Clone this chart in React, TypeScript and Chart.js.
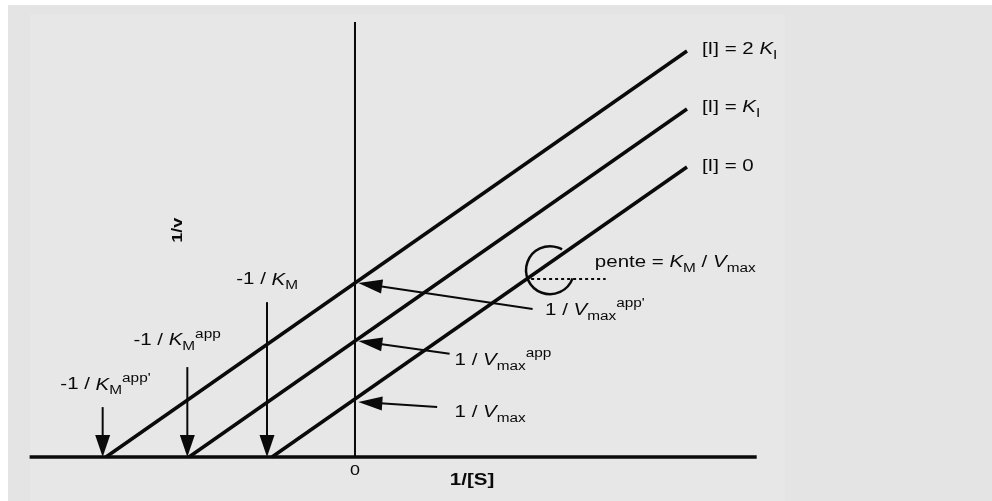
import React, { useEffect, useRef } from "react";
import { Chart, registerables } from "chart.js";

Chart.register(...registerables);

// ---- data (units: 1/[S] horizontally, 1/v vertically) ----
const lineNoInhibitor = [{ x: -1, y: 0 }, { x: 4, y: 5 }];
const lineOneKi = [{ x: -2, y: 0 }, { x: 4, y: 6 }];
const lineTwoKi = [{ x: -3, y: 0 }, { x: 4, y: 7 }];
const xAxisLine = [{ x: -3.92, y: 0 }, { x: 4.84, y: 0 }];
const yAxisLine = [{ x: 0, y: 0 }, { x: 0, y: 7.5 }];

const xRange = [-4.277, 7.675];
const yRange = [-0.7586, 7.879];

// line end labels
const lineLabelX = [4.18, 4.18, 4.18];
const lineLabelY = [5.0, 6.03, 7.02];

// downward arrows to x-intercepts
const downArrowX = [-1.06, -2.02, -3.04];
const downArrowTop = [2.67, 1.55, 0.86];
const downLabelX = [-1.43, -2.67, -3.55];
const downLabelY = [3.05, 2.0, 1.24];

// leftward arrows to y-intercepts
const leftArrowTipX = [0.04, 0.04, 0.04];
const leftArrowTipY = [0.95, 2.0, 3.0];
const leftArrowTailX = [0.99, 1.14, 2.14];
const leftArrowTailY = [0.86, 1.78, 2.55];
const leftLabelX = [1.2, 1.2, 2.29];
const leftLabelY = [0.76, 1.67, 2.53];

// slope annotation
const slopePoint = { x: 2.05, y: 3.07 };
const slopeDashEndX = 3.02;
const slopeCircle = { x: 2.35, y: 3.22 };
const slopeLabel = { x: 2.89, y: 3.36 };

// axis labels
const zeroLabel = { x: 0, y: -0.24 };
const xTitle = { x: 1.41, y: -0.4 };
const yTitle = { x: -2.14, y: 3.91 };

type Seg = [string, string];

const lineLabels: Seg[][] = [
  [["[I] = 0", ""]],
  [["[I] = ", ""], ["K", "i"], ["I", "b"]],
  [["[I] = 2 ", ""], ["K", "i"], ["I", "b"]],
];
const downLabels: Seg[][] = [
  [["-1 / ", ""], ["K", "i"], ["M", "b"]],
  [["-1 / ", ""], ["K", "i"], ["M", "b"], ["app", "p"]],
  [["-1 / ", ""], ["K", "i"], ["M", "b"], ["app'", "p"]],
];
const leftLabels: Seg[][] = [
  [["1 / ", ""], ["V", "i"], ["max", "b"]],
  [["1 / ", ""], ["V", "i"], ["max", "b"], ["app", "p"]],
  [["1 / ", ""], ["V", "i"], ["max", "b"], ["app'", "p"]],
];
const slopeText: Seg[] = [["pente = ", ""], ["K", "i"], ["M", "b"], [" / ", ""], ["V", "i"], ["max", "b"]];

const SX = 1.28;
const FONT = '"Liberation Sans", Arial, Helvetica, sans-serif';

function drawRich(ctx: CanvasRenderingContext2D, segs: Seg[], x: number, y: number, size: number, bold = false, align = "left") {
  ctx.save();
  ctx.translate(x, y);
  ctx.scale(SX, 1);
  ctx.textBaseline = "middle";
  ctx.textAlign = "left";
  ctx.fillStyle = "#0a0a0a";
  let total = 0;
  const fonts: string[] = [];
  for (const [t, st] of segs) {
    const small = st.includes("b") || st.includes("p");
    const fs = small ? Math.round(size * 0.72) : size;
    const f = `${st.includes("i") ? "italic " : ""}${bold ? "bold " : ""}${fs}px ${FONT}`;
    fonts.push(f);
    ctx.font = f;
    total += ctx.measureText(t).width;
  }
  let cx = align === "center" ? -total / 2 : 0;
  segs.forEach(([t, st], i) => {
    ctx.font = fonts[i];
    const dy = st.includes("b") ? size * 0.38 : st.includes("p") ? -size * 0.42 : 0;
    ctx.fillText(t, cx, dy);
    cx += ctx.measureText(t).width;
  });
  ctx.restore();
}

const bgPlugin = {
  id: "bg",
  beforeDraw(chart: any) {
    const ctx = chart.ctx as CanvasRenderingContext2D;
    ctx.save();
    ctx.fillStyle = "#ffffff";
    ctx.fillRect(0, 0, chart.width, chart.height);
    ctx.fillStyle = "#e4e4e4";
    ctx.fillRect(8, 5, chart.width - 8, chart.height - 5);
    ctx.fillStyle = "#e7e7e7";
    ctx.fillRect(30, 14, 755, chart.height - 14);
    ctx.restore();
  },
};

const annotPlugin = {
  id: "annot",
  afterDatasetsDraw(chart: any) {
    const ctx = chart.ctx as CanvasRenderingContext2D;
    const xs = chart.scales.x;
    const ys = chart.scales.y;
    const px = (v: number) => xs.getPixelForValue(v);
    const py = (v: number) => ys.getPixelForValue(v);
    ctx.save();
    ctx.strokeStyle = "#0a0a0a";
    ctx.fillStyle = "#0a0a0a";
    ctx.lineWidth = 2;

    // down arrows
    downArrowX.forEach((x, i) => {
      const X = px(x);
      const top = py(downArrowTop[i]);
      const tip = py(0);
      const hl = 22, hw = 7.5;
      ctx.beginPath();
      ctx.moveTo(X, top);
      ctx.lineTo(X, tip - hl + 2);
      ctx.stroke();
      ctx.beginPath();
      ctx.moveTo(X, tip);
      ctx.lineTo(X - hw, tip - hl);
      ctx.lineTo(X + hw, tip - hl);
      ctx.closePath();
      ctx.fill();
      drawRich(ctx, downLabels[i], px(downLabelX[i]), py(downLabelY[i]), 16);
    });

    // left arrows
    leftArrowTipX.forEach((x, i) => {
      const tx = px(x), ty = py(leftArrowTipY[i]);
      const sx = px(leftArrowTailX[i]), sy = py(leftArrowTailY[i]);
      const ang = Math.atan2(ty - sy, tx - sx);
      const hl = 24, hw = 7;
      const bx = tx - Math.cos(ang) * hl, by = ty - Math.sin(ang) * hl;
      ctx.beginPath();
      ctx.moveTo(sx, sy);
      ctx.lineTo(bx + Math.cos(ang) * 2, by + Math.sin(ang) * 2);
      ctx.stroke();
      ctx.beginPath();
      ctx.moveTo(tx, ty);
      ctx.lineTo(bx - Math.sin(ang) * hw, by + Math.cos(ang) * hw);
      ctx.lineTo(bx + Math.sin(ang) * hw, by - Math.cos(ang) * hw);
      ctx.closePath();
      ctx.fill();
      drawRich(ctx, leftLabels[i], px(leftLabelX[i]), py(leftLabelY[i]), 16);
    });

    // slope annotation
    ctx.save();
    ctx.setLineDash([3, 3]);
    ctx.beginPath();
    ctx.moveTo(px(slopePoint.x), py(slopePoint.y));
    ctx.lineTo(px(slopeDashEndX), py(slopePoint.y));
    ctx.stroke();
    ctx.restore();
    ctx.lineWidth = 2.5;
    ctx.beginPath();
    ctx.arc(px(slopeCircle.x), py(slopeCircle.y), 24, (20 * Math.PI) / 180, (300 * Math.PI) / 180, false);
    ctx.stroke();
    ctx.lineWidth = 2;
    drawRich(ctx, slopeText, px(slopeLabel.x), py(slopeLabel.y), 16);

    // line labels
    lineLabels.forEach((segs, i) => drawRich(ctx, segs, px(lineLabelX[i]), py(lineLabelY[i]), 16));

    // axis labels
    drawRich(ctx, [["0", ""]], px(zeroLabel.x), py(zeroLabel.y), 14, false, "center");
    drawRich(ctx, [["1/[S]", ""]], px(xTitle.x), py(xTitle.y), 16, true, "center");
    ctx.save();
    ctx.translate(px(yTitle.x), py(yTitle.y));
    ctx.rotate(-Math.PI / 2);
    ctx.font = `bold 15px ${FONT}`;
    ctx.textAlign = "center";
    ctx.textBaseline = "middle";
    ctx.scale(1.2, 1);
    ctx.fillText("1/v", 0, 0);
    ctx.restore();

    ctx.restore();
  },
};

export default function App() {
  const ref = useRef<HTMLCanvasElement>(null);
  useEffect(() => {
    const canvas = ref.current!;
    const base = { showLine: true, pointRadius: 0, borderColor: "#0a0a0a", fill: false, tension: 0 };
    const chart = new Chart(canvas, {
      type: "scatter",
      data: {
        datasets: [
          { ...base, label: "x", data: xAxisLine, borderWidth: 3.5 },
          { ...base, label: "y", data: yAxisLine, borderWidth: 2 },
          { ...base, label: "[I] = 0", data: lineNoInhibitor, borderWidth: 3.5 },
          { ...base, label: "[I] = Ki", data: lineOneKi, borderWidth: 3.5 },
          { ...base, label: "[I] = 2 Ki", data: lineTwoKi, borderWidth: 3.5 },
        ],
      },
      options: {
        animation: false,
        responsive: false,
        devicePixelRatio: 1,
        events: [],
        layout: { padding: 0 },
        plugins: { legend: { display: false }, tooltip: { enabled: false } },
        scales: {
          x: { type: "linear", min: xRange[0], max: xRange[1], display: false },
          y: { type: "linear", min: yRange[0], max: yRange[1], display: false },
        },
      },
      plugins: [bgPlugin, annotPlugin],
    } as any);
    return () => chart.destroy();
  }, []);
  return (
    <div style={{ position: "fixed", left: 0, top: 0, width: 992, height: 501, background: "#fff" }}>
      <canvas ref={ref} width={992} height={501} style={{ display: "block", width: 992, height: 501 }} />
    </div>
  );
}
